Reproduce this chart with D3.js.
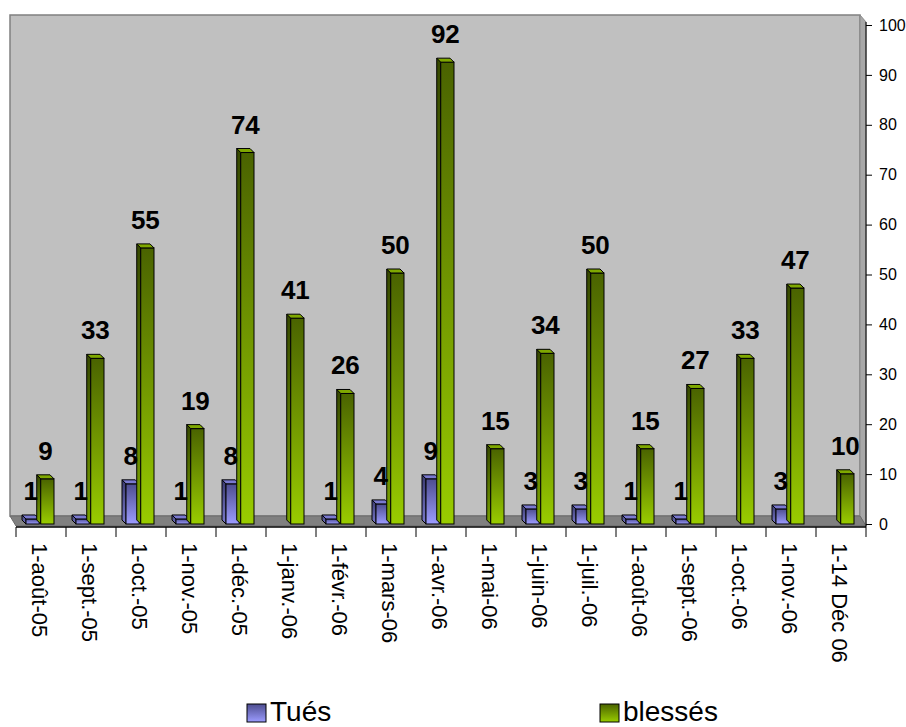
<!DOCTYPE html>
<html><head><meta charset="utf-8">
<script src="https://cdn.jsdelivr.net/npm/d3@7"></script>
<style>body{margin:0;background:#fff;}svg{display:block;font-family:Arial,"Liberation Sans",sans-serif;}</style>
</head><body>
<svg id="c" width="906" height="727"></svg>
<script>
const categories = ["1-août-05","1-sept.-05","1-oct.-05","1-nov.-05","1-déc.-05","1-janv.-06","1-févr.-06","1-mars-06","1-avr.-06","1-mai-06","1-juin-06","1-juil.-06","1-août-06","1-sept.-06","1-oct.-06","1-nov.-06","1-14 Déc 06"];
const tues    = [1,1,8,1,8,0,1,4,9,0,3,3,1,1,0,3,0];
const blesses = [9,33,55,19,74,41,26,50,92,15,34,50,15,27,33,47,10];
const seriesNames = ["Tués","blessés"];
const yTicks = [0,10,20,30,40,50,60,70,80,90,100];

const svg = d3.select("#c");
const defs = svg.append("defs");
function grad(id, top, bottom){
  const g = defs.append("linearGradient").attr("id",id).attr("x1",0).attr("y1",0).attr("x2",0).attr("y2",1);
  g.append("stop").attr("offset","0%").attr("stop-color",top);
  g.append("stop").attr("offset","100%").attr("stop-color",bottom);
}
grad("gG","#4a6300","#99cc00");
grad("gGs","#364800","#7aa300");
grad("gB","#4d4d8f","#9c9cff");
grad("gBs","#3a3a70","#7a7acc");
const fills = {"Tués":{front:"url(#gB)",side:"url(#gBs)",top:"#7a7ad0"},
               "blessés":{front:"url(#gG)",side:"url(#gGs)",top:"#7fa800"}};

const x = d3.scaleBand().domain(categories).range([16,866]).padding(0);
const xi = d3.scaleBand().domain(seriesNames).range([10,38]).paddingInner(0.1);
const y = d3.scaleLinear().domain([0,100]).range([524,25]);      // axis (front plane)
const yb = d3.scaleLinear().domain([0,100]).range([524,22]);     // bars (mid depth)

// back wall
svg.append("rect").attr("x",10).attr("y",15).attr("width",850).attr("height",501)
  .attr("fill","#c0c0c0").attr("stroke","#808080").attr("stroke-width",1.5);
// right side wall
svg.append("polygon").attr("points","860,15 866,22 866,526 860,516")
  .attr("fill","#a8a8a8").attr("stroke","#8a8a8a").attr("stroke-width",1);
// floor
svg.append("polygon").attr("points","10,516 860,516 866,526 16,526")
  .attr("fill","#808080").attr("stroke","#6a6a6a").attr("stroke-width",1);
svg.append("line").attr("x1",16).attr("x2",866).attr("y1",527).attr("y2",527)
  .attr("stroke","#000").attr("stroke-width",1.5);

// category ticks
const tickXs = categories.map(c=>x(c)).concat([x.range()[1]]);
svg.append("g").selectAll("line").data(tickXs).join("line")
  .attr("x1",d=>d).attr("x2",d=>d).attr("y1",527).attr("y2",537)
  .attr("stroke","#000").attr("stroke-width",1);

// bars
const dx=-4, dy=-4;
function drawBar(g, xf, w, v, f){
  const yt = yb(v), y0 = yb(0);
  g.append("polygon").attr("points",`${xf},${yt} ${xf+dx},${yt+dy} ${xf+dx},${y0+dy} ${xf},${y0}`)
    .attr("fill",f.side).attr("stroke","#000").attr("stroke-width",1).attr("stroke-linejoin","round");
  g.append("rect").attr("x",xf).attr("y",yt).attr("width",w).attr("height",y0-yt)
    .attr("fill",f.front).attr("stroke","#000").attr("stroke-width",1);
  g.append("polygon").attr("points",`${xf},${yt} ${xf+dx},${yt+dy} ${xf+w+dx},${yt+dy} ${xf+w},${yt}`)
    .attr("fill",f.top).attr("stroke","#000").attr("stroke-width",1).attr("stroke-linejoin","round");
}
const barsG = svg.append("g");
const labelsG = svg.append("g");
categories.forEach((c,i)=>{
  [[seriesNames[0],tues[i]],[seriesNames[1],blesses[i]]].forEach(([s,v])=>{
    if(v<=0) return;
    const xf = x(c)+xi(s), w = xi.bandwidth();
    drawBar(barsG, xf, w, v, fills[s]);
    labelsG.append("text").attr("x",xf+w/2+dx/2).attr("y",yb(v)+dy-15)
      .attr("text-anchor","middle").attr("font-size",26).attr("font-weight","bold")
      .attr("fill","#000").text(v);
  });
});

// category labels
svg.append("g").selectAll("text").data(categories).join("text")
  .attr("transform",d=>`translate(${x(d)+x.bandwidth()/2-2},543) rotate(90)`)
  .attr("text-anchor","start").attr("dominant-baseline","central")
  .attr("font-size",22).attr("fill","#000").text(d=>d);

// right axis
const ax = svg.append("g").attr("transform","translate(866,0)")
  .call(d3.axisRight(y).tickValues(yTicks).tickSize(6).tickPadding(7).tickSizeOuter(0));
ax.select(".domain").attr("stroke","#000").attr("d","M0,22V527");
ax.selectAll("text").attr("font-size",16).attr("font-family","Arial,'Liberation Sans',sans-serif").attr("fill","#000");

// legend
const leg = [{name:seriesNames[0],sx:247,fill:"url(#gB)"},{name:seriesNames[1],sx:600,fill:"url(#gG)"}];
const lg = svg.append("g");
leg.forEach(l=>{
  lg.append("rect").attr("x",l.sx).attr("y",704).attr("width",19).attr("height",18)
    .attr("fill",l.fill).attr("stroke","#000").attr("stroke-width",1);
  lg.append("text").attr("x",l.sx+23).attr("y",721).attr("font-size",28).attr("fill","#000").text(l.name);
});
</script>
</body></html>
